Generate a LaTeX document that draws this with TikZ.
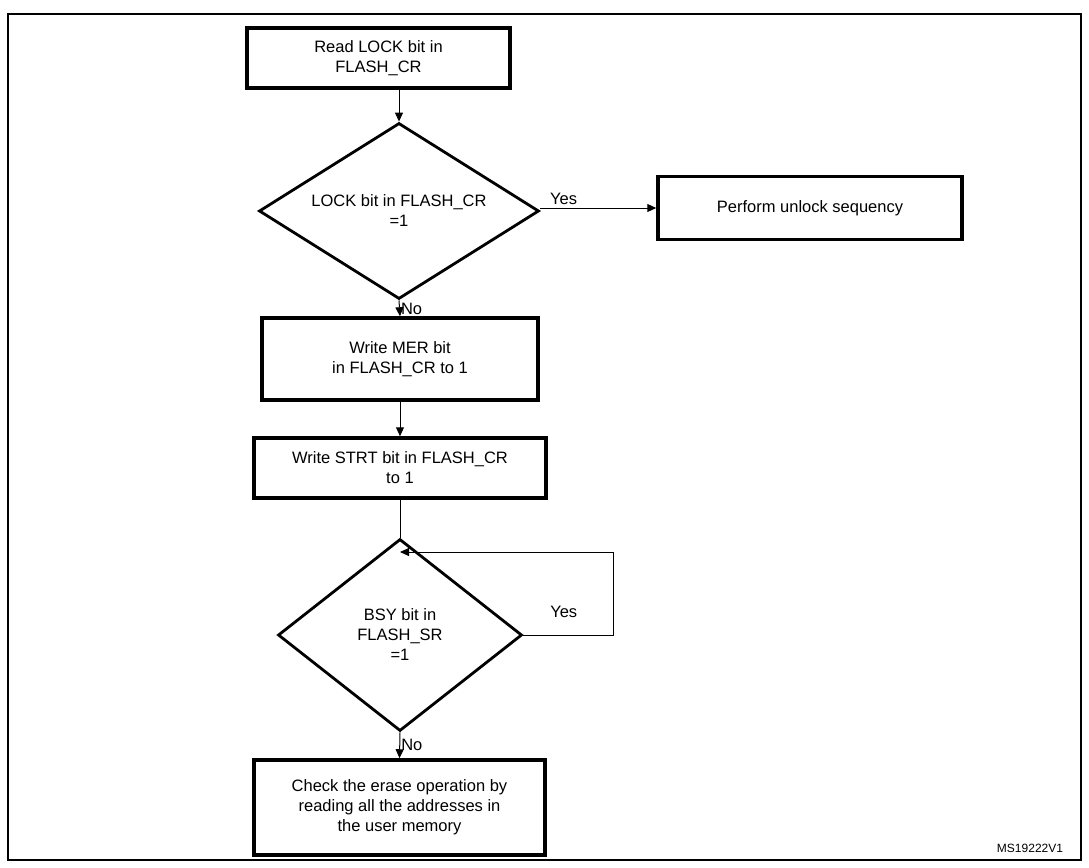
\documentclass[tikz,border=0pt]{standalone}
\usepackage{fontspec}
\setmainfont{Liberation Sans}
\usetikzlibrary{shapes.geometric,arrows.meta}
\begin{document}
\begin{tikzpicture}[x=1pt,y=-1pt,
  box/.style={draw,line width=3.5pt,align=center,font=\fontsize{16.5}{20}\selectfont,inner sep=0pt},
  dia/.style={draw,line width=2.8pt,diamond,align=center,font=\fontsize{16.5}{20}\selectfont,inner sep=0pt},
  arr/.style={-{Triangle[length=9pt,width=8pt]},line width=1pt},
  lab/.style={font=\fontsize{16.5}{20}\selectfont}]
\useasboundingbox (0,0) rectangle (1089,867);
\draw[line width=1.3pt] (8,14) rectangle (1081,860);
\node[box,minimum width=263pt,minimum height=60pt] (b1) at (378.5,58) {Read LOCK bit in\\FLASH\_CR};
\node[dia,aspect=1.6,minimum width=280pt,minimum height=176pt] (d1) at (399,211) {LOCK bit in FLASH\_CR\\=1};
\node[box,minimum width=304pt,minimum height=63pt] (u) at (810,208) {Perform unlock sequency};
\node[box,minimum width=276pt,minimum height=82pt] (b2) at (400,359) {Write MER bit\\in FLASH\_CR to 1};
\node[box,minimum width=292pt,minimum height=60pt] (b3) at (400,468) {Write STRT bit in FLASH\_CR\\to 1};
\node[dia,minimum width=244pt,minimum height=192pt] (d2) at (400,635) {BSY bit in\\FLASH\_SR\\=1};
\node[box,minimum width=291pt,minimum height=95pt] (b4) at (399.5,807.5) {Check the erase operation by\\reading all the addresses in\\the user memory};
\coordinate (c1) at (613,635);
\coordinate (c2) at (613,552);
\coordinate (c3) at (400,552);
\draw[arr] (b1.south -| d1.north) -- (d1.north);
\draw[arr] (d1.east |- u.west) -- node[lab,above,pos=0.2] {Yes} (u.west);
\draw[arr] (d1.south) -- node[lab,right,pos=0.55,inner sep=1pt] {No} (b2.north);
\draw[arr] (b2) -- (b3);
\draw[line width=1pt] (b3.south) -- (d2.north);
\draw[arr] (d2.east) -- node[lab,above=14pt,pos=0.45] {Yes} (c1) -- (c2) -- (c3);
\draw[arr] (d2.south) -- node[lab,right,pos=0.5,inner sep=1pt] {No} (b4.north);
\node[font=\fontsize{12}{14}\selectfont] (ms) at (1030,848) {MS19222V1};
\end{tikzpicture}
\end{document}
